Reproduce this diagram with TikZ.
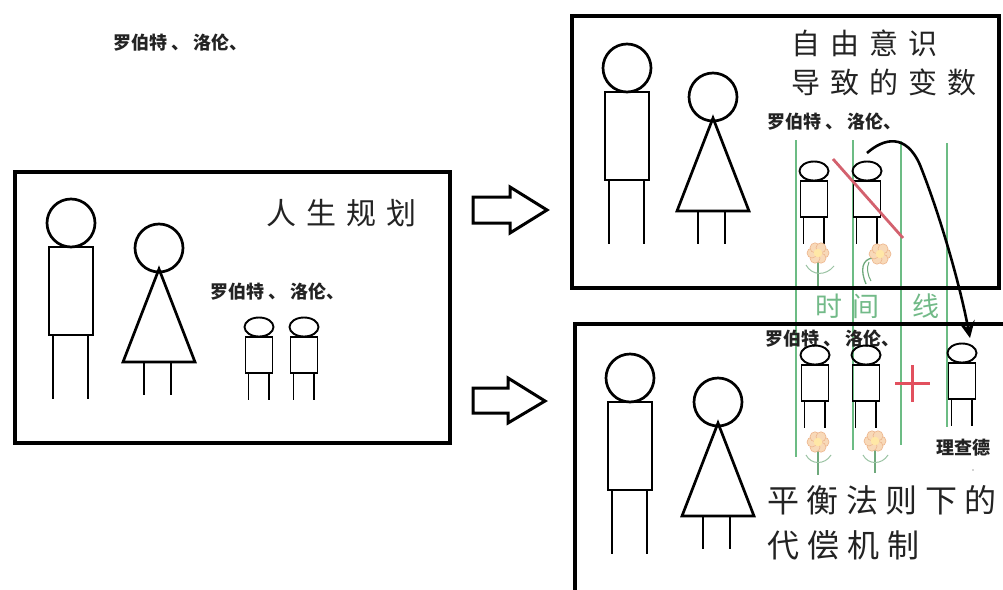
\documentclass[tikz,border=0pt]{standalone}
\usepackage{fontspec}
\newfontfamily\cjk{Noto Sans CJK SC}
\usetikzlibrary{arrows.meta}
\definecolor{lineGreen}{HTML}{6CBC84}
\definecolor{textGreen}{HTML}{72BA88}
\definecolor{stemGreen}{HTML}{6FA97C}
\definecolor{petalFill}{HTML}{F8D9B8}
\definecolor{petalEdge}{HTML}{EDB58C}
\definecolor{flowerCore}{HTML}{FFE7A6}
\definecolor{slashRed}{HTML}{D3616E}
\definecolor{plusRed}{HTML}{E2505E}
\definecolor{inkGray}{HTML}{232323}
\tikzset{
  frame/.style={line width=3.6pt, line join=miter},
  fig/.style={line width=2.7pt},
  kidline/.style={line width=1.9pt},
  timeline/.style={lineGreen, line width=1.6pt},
  blockarrow/.style={line width=3pt, line join=miter},
  label/.style={inner sep=0pt, anchor=west, font=\cjk\bfseries\fontsize{18}{19}\selectfont, text=inkGray},
  title/.style={inner sep=0pt, anchor=west, text=inkGray},
  man/.pic={
    \draw[fig] (0,0) circle[radius=24];
    \draw[fig] (-22,24) rectangle (22,112);
    \draw[fig] (-18,112) -- (-18,176) (17,112) -- (17,176);
  },
  woman/.pic={
    \draw[fig] (0,0) circle[radius=24];
    \draw[fig, line join=miter] (0,21) -- (-36,114) -- (36,114) -- cycle;
    \draw[fig] (-15,114) -- (-15,147) (12,114) -- (12,147);
  },
  kid/.pic={
    \draw[kidline] (0,0) ellipse[x radius=14.5, y radius=9.5];
    \draw[kidline] (-13.5,10) rectangle (13.5,46);
    \draw[kidline] (-10.5,46) -- (-10.5,73) (10,46) -- (10,73);
  },
  blossom/.pic={
    \foreach \a in {0,60,...,300}
      \filldraw[fill=petalFill, draw=petalEdge, line width=0.6pt] (\a:6) circle[radius=5];
    \fill[flowerCore] (0,0) circle[radius=4.3];
  },
}
\newcommand\gap[1]{\hspace{#1pt}}
\begin{document}
\begin{tikzpicture}[x=1pt, y=-1pt]
\useasboundingbox (0,0) rectangle (1003,589);
\fill[white] (0,0) rectangle (1003,589);

% ---- time lines ----
\draw[timeline] (796,140) -- (796,457);
\draw[timeline] (853,140) -- (853,450);
\draw[timeline] (901,141) -- (901,445);
\draw[timeline] (947,143) -- (947,427);
\node[inner sep=0pt, anchor=west, text=textGreen, font=\cjk\fontsize{27}{28}\selectfont] (timeword) at (815,306) {时\gap{10}间\gap{33}线};

% ---- panels ----
\draw[frame] (15,172) rectangle (450,443);
\draw[frame] (572,16) rectangle (999,288);
\draw[frame] (1005,324) -- (575,324) -- (575,592);

% ---- caption above the first panel ----
\node[label] (topnames) at (113,43) {罗伯特 、 洛伦、};

% ---- first panel: life plan ----
\pic (manA) at (71,223) {man};
\pic (womanA) at (159,248) {woman};
\node[label] (namesA) at (210,292) {罗伯特 、 洛伦、};
\pic (kidA1) at (259,327) {kid};
\pic (kidA2) at (304,327) {kid};
\node[title, font=\cjk\fontsize{30}{32}\selectfont] (titleA) at (266,213) {人\gap{10}生\gap{10}规\gap{10}划};

% ---- hollow arrows ----
\draw[blockarrow] (473,197) -- (510,197) -- (510,187) -- (547,210) -- (510,233) -- (510,223) -- (473,223) -- cycle;
\draw[blockarrow] (473,388) -- (508,388) -- (508,378) -- (545,401) -- (508,423) -- (508,413) -- (473,413) -- cycle;

% ---- second panel: free will ----
\pic (manB) at (627,68) {man};
\pic (womanB) at (713,97) {woman};
\node[title, font=\cjk\fontsize{29}{31}\selectfont] (titleB1) at (791,43) {自\gap{10}由\gap{10}意\gap{10}识};
\node[title, font=\cjk\fontsize{29}{31}\selectfont] (titleB2) at (791,82) {导\gap{10}致\gap{10}的\gap{10}变\gap{10}数};
\node[label] (namesB) at (767,122) {罗伯特 、 洛伦、};
\pic (kidB1) at (814,171) {kid};
\pic (kidB2) at (867,171) {kid};
\draw[slashRed, line width=2.8pt] (833,159) -- (903,238);

% flowers under the children
\draw[stemGreen, line width=1.3pt] (818,256) -- (818,286);
\draw[stemGreen!70, line width=1pt] (806,265) .. controls (812,276) and (826,276) .. (834,266);
\pic at (818,253) {blossom};
\draw[stemGreen, line width=1.3pt] (873,258) .. controls (862,259) and (860,270) .. (866,284);
\draw[stemGreen, line width=1pt] (869,262) .. controls (866,268) and (868,276) .. (871,281);
\pic at (880,254) {blossom};

% ---- third panel: compensation ----
\pic (manC) at (630,378) {man};
\pic (womanC) at (718,402) {woman};
\node[label] (namesC) at (765,339) {罗伯特 、 洛伦、};
\pic (kidC1) at (815,355) {kid};
\pic (kidC2) at (866,355) {kid};
\pic (kidC3) at (962,353) {kid};
\draw[plusRed, line width=3pt] (895,383) -- (930,383) (912,365) -- (912,402);
\node[label, anchor=center] (richard) at (963,448) {理查德};
\fill[gray!70] (973,470) circle[radius=0.8];
\node[title, font=\cjk\fontsize{32}{34}\selectfont] (titleC1) at (767,500) {平\gap{7.5}衡\gap{7.5}法\gap{7.5}则\gap{7.5}下\gap{7.5}的};
\node[title, font=\cjk\fontsize{32}{34}\selectfont] (titleC2) at (767,545) {代\gap{8}偿\gap{8}机\gap{8}制};

\draw[stemGreen, line width=1.3pt] (818,445) -- (818,475);
\draw[stemGreen!70, line width=1pt] (806,455) .. controls (811,465) and (825,465) .. (831,455);
\pic at (818,442) {blossom};
\draw[stemGreen, line width=1.3pt] (875,444) -- (875,473);
\draw[stemGreen!70, line width=1pt] (863,455) .. controls (868,465) and (882,465) .. (888,455);
\pic at (875,441) {blossom};

% ---- curved arrow from the crossed-out child to the new one ----
\coordinate (curveFrom) at (867,153);
\coordinate (curveTo) at (970,338);
\draw[line width=2.6pt, -{Stealth[length=17pt, width=16pt, inset=7pt]}]
  (curveFrom) .. controls (884,138) and (906,133) .. (920,165)
  .. controls (940,215) and (960,285) .. (curveTo);
\end{tikzpicture}
\end{document}
